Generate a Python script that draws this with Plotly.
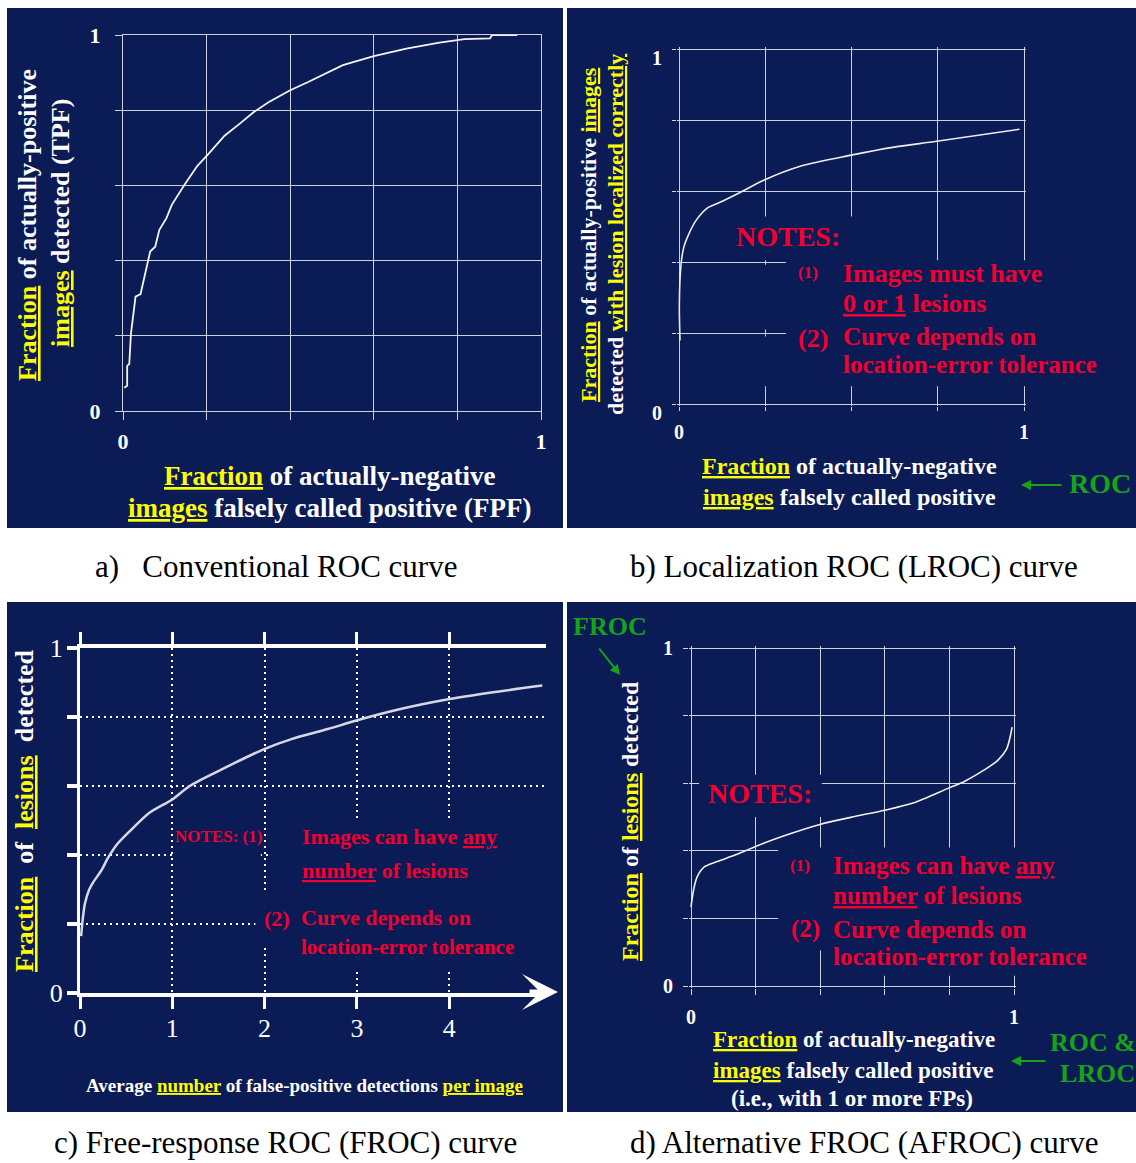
import plotly.graph_objects as go

W, H = 1136, 1163

NAVY = "#0b1b56"
GRID = "#cdd1de"
WHITE = "#ffffff"
YELLOW = "#ffff00"
RED = "#f2002f"
GREEN = "#17a317"
SERIF = "Liberation Serif, Times New Roman, serif"

# a) conventional ROC: empirical operating points (FPF, TPF)
roc_fpf = [0.003, 0.010, 0.010, 0.015, 0.019, 0.030, 0.042, 0.061, 0.065, 0.077,
           0.087, 0.104, 0.117, 0.148, 0.178, 0.204, 0.243, 0.278, 0.313, 0.348,
           0.400, 0.443, 0.526, 0.600, 0.678, 0.757, 0.817, 0.878, 0.883, 0.943]
roc_tpf = [0.062, 0.067, 0.120, 0.125, 0.205, 0.304, 0.311, 0.410, 0.424, 0.437,
           0.482, 0.513, 0.549, 0.603, 0.652, 0.683, 0.732, 0.763, 0.795, 0.821,
           0.853, 0.875, 0.920, 0.944, 0.964, 0.980, 0.989, 0.991, 1.000, 1.000]

# b) LROC: FPF vs. fraction of positive images correctly localized
lroc_fpf = [0.003, 0.001, 0.006, 0.014, 0.029, 0.050, 0.082, 0.114, 0.177, 0.247,
            0.356, 0.499, 0.619, 0.747, 0.987]
lroc_tpf = [0.179, 0.280, 0.394, 0.442, 0.480, 0.518, 0.552, 0.566, 0.596, 0.631,
            0.671, 0.701, 0.723, 0.740, 0.774]

# c) FROC: false positives per image vs. lesion localization fraction
froc_fp_per_image = [0.012, 0.030, 0.054, 0.100, 0.141, 0.235, 0.300, 0.402, 0.559,
                     0.756, 1.000, 1.189, 1.504, 1.996, 2.291, 2.685, 2.984, 3.472,
                     4.004, 4.457, 5.008]
froc_llf = [0.165, 0.215, 0.260, 0.300, 0.320, 0.357, 0.390, 0.431, 0.474, 0.523,
            0.561, 0.600, 0.644, 0.707, 0.736, 0.765, 0.789, 0.823, 0.852, 0.871,
            0.891]

# d) AFROC: image-level FPF vs. lesion localization fraction
afroc_fpf = [0.000, 0.008, 0.019, 0.042, 0.081, 0.138, 0.200, 0.284, 0.399, 0.510,
             0.600, 0.690, 0.794, 0.848, 0.904, 0.949, 0.977, 0.989, 0.994]
afroc_llf = [0.234, 0.284, 0.323, 0.353, 0.368, 0.388, 0.413, 0.443, 0.478, 0.502,
             0.520, 0.542, 0.584, 0.606, 0.637, 0.667, 0.701, 0.741, 0.766]

# tick values / labels
unit_ticks = [0.0, 0.2, 0.4, 0.6, 0.8, 1.0]
unit_labels = ["0", "", "", "", "", "1"]
quarter_ticks = [0.0, 0.25, 0.5, 0.75, 1.0]
quarter_labels = ["0", "", "", "", "1"]
froc_x_ticks = [0, 1, 2, 3, 4]
froc_x_labels = ["0", "1", "2", "3", "4"]

captions = ["a)\u00a0\u00a0\u00a0Conventional ROC curve",
            "b) Localization ROC (LROC) curve",
            "c) Free-response ROC (FROC) curve",
            "d) Alternative FROC (AFROC) curve"]


def fx(p):
    return p / W


def fy(p):
    return 1 - p / H


def yel(t):
    return f"<span style='color:{YELLOW}'><u>{t}</u></span>"


fig = go.Figure()

fig.add_trace(go.Scatter(x=roc_fpf, y=roc_tpf, mode="lines", xaxis="x", yaxis="y",
                         line=dict(color="#f4f4f4", width=1.8), hoverinfo="skip"))
fig.add_trace(go.Scatter(x=lroc_fpf, y=lroc_tpf, mode="lines", xaxis="x2", yaxis="y2",
                         line=dict(color="#ececec", width=1.6, shape="spline", smoothing=0.8),
                         hoverinfo="skip"))
fig.add_trace(go.Scatter(x=froc_fp_per_image, y=froc_llf, mode="lines", xaxis="x3", yaxis="y3",
                         line=dict(color="#d6d8e4", width=2.5, shape="spline", smoothing=0.8),
                         hoverinfo="skip"))
fig.add_trace(go.Scatter(x=afroc_fpf, y=afroc_llf, mode="lines", xaxis="x4", yaxis="y4",
                         line=dict(color="#f0f0f0", width=1.6, shape="spline", smoothing=0.8),
                         hoverinfo="skip"))

EPS = 0.006


def solid_axis(domain, anchor, tickvals, ticktext, rng, size, ticklen=6, standoff=4,
               shift=0):
    return dict(domain=domain, anchor=anchor, range=rng, tickmode="array",
                tickvals=tickvals, ticktext=ticktext, showgrid=True, gridcolor=GRID,
                gridwidth=1.4, zeroline=False, ticks="outside", ticklen=ticklen,
                tickcolor=GRID, tickwidth=1.4, showline=False, fixedrange=True,
                automargin=False, ticklabelstandoff=standoff, ticklabelshift=shift,
                tickfont=dict(family=SERIF, size=size, color=WHITE, weight="bold"))


# panel a
ax_a = solid_axis([fx(123), fx(541)], "y", unit_ticks, unit_labels, [0, 1], 22,
                  ticklen=8, standoff=2)
ax_a.update(showline=True, mirror=True, linecolor=GRID, linewidth=1.4)
ay_a = solid_axis([fy(411), fy(35)], "x", unit_ticks, unit_labels, [0, 1], 22,
                  ticklen=7, standoff=10)
ay_a.update(showline=True, mirror=True, linecolor=GRID, linewidth=1.4)

# panel b (range padded so the border grid lines are kept)
bx0, bx1 = 679, 1024
by0, by1 = 404, 49
bw, bh = bx1 - bx0, by0 - by1
ax_b = solid_axis([fx(bx0 - EPS * bw), fx(bx1 + EPS * bw)], "y2", quarter_ticks,
                  quarter_labels, [-EPS, 1 + EPS], 20, ticklen=4, standoff=4)
ay_b = solid_axis([fy(by0 + EPS * bh), fy(by1 - EPS * bh)], "x2", unit_ticks,
                  unit_labels, [-EPS, 1 + EPS], 20, ticklen=4, standoff=6, shift=9)

# panel c
cx0, cunit = 80, 92.3
cxmax = 5.05
ax_c = dict(domain=[fx(cx0), fx(cx0 + cxmax * cunit)], anchor="y3", range=[0, cxmax],
            tickmode="array", tickvals=froc_x_ticks, ticktext=froc_x_labels,
            showgrid=True, gridcolor=WHITE, gridwidth=2, griddash="2px,4px",
            zeroline=False, showline=True, mirror="allticks", linecolor=WHITE,
            linewidth=4, ticks="outside", ticklen=12, tickwidth=3, tickcolor=WHITE,
            ticklabelstandoff=-3, fixedrange=True, automargin=False,
            tickfont=dict(family=SERIF, size=26, color=WHITE))
ay_c = dict(domain=[fy(993), fy(648)], anchor="x3", range=[0, 1], tickmode="array",
            tickvals=unit_ticks, ticktext=unit_labels, showgrid=True, gridcolor=WHITE,
            gridwidth=2, griddash="2px,4px", zeroline=False, showline=True,
            linecolor=WHITE, linewidth=3, ticks="outside", ticklen=10, tickwidth=4,
            tickcolor=WHITE, ticklabelstandoff=-1, fixedrange=True, automargin=False,
            tickfont=dict(family=SERIF, size=26, color=WHITE))

# panel d
dx0, dx1 = 691, 1014
dy0, dy1 = 986, 648
dw, dh = dx1 - dx0, dy0 - dy1
ax_d = solid_axis([fx(dx0 - EPS * dw), fx(dx1 + EPS * dw)], "y4", unit_ticks, unit_labels,
                  [-EPS, 1 + EPS], 20, ticklen=6, standoff=5)
ay_d = solid_axis([fy(dy0 + EPS * dh), fy(dy1 - EPS * dh)], "x4", unit_ticks, unit_labels,
                  [-EPS, 1 + EPS], 20, ticklen=5, standoff=6)

fig.update_layout(xaxis=ax_a, yaxis=ay_a, xaxis2=ax_b, yaxis2=ay_b,
                  xaxis3=ax_c, yaxis3=ay_c, xaxis4=ax_d, yaxis4=ay_d)

shapes = []
# navy slide backgrounds
for (l, t, r, b) in [(7, 8, 563, 528), (567, 8, 1136, 528),
                     (7, 602, 563, 1112), (567, 602, 1136, 1112)]:
    shapes.append(dict(type="rect", xref="paper", yref="paper", x0=fx(l), x1=fx(r),
                       y0=fy(b), y1=fy(t), fillcolor=NAVY, line=dict(width=0),
                       layer="below"))


def mask(xr, yr, x0, x1, y0, y1):
    shapes.append(dict(type="rect", xref=xr, yref=yr, x0=x0, x1=x1, y0=y0, y1=y1,
                       fillcolor=NAVY, line=dict(width=0), layer="between"))


# text boxes sitting over the grids
mask("x2", "y2", 0.31, 1.05, 0.05, 0.405)
mask("x2", "y2", 0.17, 0.56, 0.405, 0.528)
mask("x2", "y2", 0.24, 0.26, 0.05, 0.19)
mask("x2", "y2", 0.24, 0.26, 0.21, 0.392)

mask("x3", "y3", 1.04, 1.96, 0.385, 0.415)
mask("x3", "y3", 2.04, 5.06, 0.064, 0.507)
mask("x3", "y3", 1.90, 2.04, 0.137, 0.29)

mask("x4", "y4", 0.025, 0.405, 0.50, 0.625)
mask("x4", "y4", 0.27, 0.5, 0.105, 0.41)
mask("x4", "y4", 0.5, 1.05, 0.03, 0.41)

fig.update_layout(shapes=shapes)

anns = []


def txt(text, x, y, size, color=WHITE, bold=True, xanchor="center", angle=0):
    t = f"<b>{text}</b>" if bold else text
    anns.append(dict(text=t, x=fx(x), y=fy(y), xref="paper", yref="paper",
                     xanchor=xanchor, yanchor="middle", textangle=angle,
                     showarrow=False, font=dict(family=SERIF, size=size, color=color)))


def arrow(x, y, ax, ay, color, width, head=2, size=1.0):
    anns.append(dict(text="", x=fx(x), y=fy(y), xref="paper", yref="paper",
                     ax=ax, ay=ay, showarrow=True, arrowcolor=color,
                     arrowwidth=width, arrowhead=head, arrowsize=size))


# a) conventional ROC
txt(f"{yel('Fraction')} of actually-positive", 27, 225, 26, angle=-90)
txt(f"{yel('images')} detected (TPF)", 60, 223, 26, angle=-90)
txt(f"{yel('Fraction')} of actually-negative", 329, 476, 27)
txt(f"{yel('images')} falsely called positive (FPF)", 329.5, 508, 27)

# b) LROC
txt(f"{yel('Fraction')} of actually-positive {yel('images')}", 589, 235, 22, angle=-90)
txt(f"detected {yel('with lesion localized correctly')}", 616, 235, 22, angle=-90)
txt(f"{yel('Fraction')} of actually-negative", 850, 466, 24)
txt(f"{yel('images')} falsely called positive", 850, 497, 24)
txt("ROC", 1100, 483, 28, color=GREEN)
arrow(1021, 485, 42, 0, GREEN, 2)
txt("NOTES:", 788, 237, 28, color=RED)
txt("(1)", 808, 272, 17, color=RED)
txt("Images must have", 841, 273, 26, color=RED, xanchor="left")
txt("<u>0 or 1</u> lesions", 841, 303, 26, color=RED, xanchor="left")
txt("(2)", 813, 338, 26, color=RED)
txt("Curve depends on", 841, 336, 25, color=RED, xanchor="left")
txt("location-error tolerance", 841, 364, 25, color=RED, xanchor="left")

# c) FROC
gap = "\u00a0 "
txt(f"{yel('Fraction')}{gap}of{gap}{yel('lesions')}{gap}detected", 24, 811, 26, angle=-90)
txt("NOTES: (1)", 218, 836, 17, color=RED)
txt("Images can have <u>any</u>", 300, 836, 22, color=RED, xanchor="left")
txt("<u>number</u> of lesions", 300, 870, 22, color=RED, xanchor="left")
txt("(2)", 277, 918, 22, color=RED)
txt("Curve depends on", 299, 917, 22, color=RED, xanchor="left")
txt("location-error tolerance", 299, 947, 21, color=RED, xanchor="left")
txt(f"Average {yel('number')} of false-positive detections {yel('per image')}",
    304, 1085, 19)
arrow(558, 992, -30, 0, WHITE, 5, head=3, size=1.2)

# d) AFROC
txt("FROC", 610, 626, 26, color=GREEN)
arrow(620, 675, -22, -28, GREEN, 2)
txt(f"{yel('Fraction')} of {yel('lesions')} detected", 630, 821, 24, angle=-90)
txt("NOTES:", 760, 793, 28, color=RED)
txt("(1)", 799.5, 865, 17, color=RED)
txt("Images can have <u>any</u>", 831, 865, 25, color=RED, xanchor="left")
txt("<u>number</u> of lesions", 831, 895, 25, color=RED, xanchor="left")
txt("(2)", 805, 929, 25, color=RED)
txt("Curve depends on", 831, 929, 25, color=RED, xanchor="left")
txt("location-error tolerance", 831, 956, 25, color=RED, xanchor="left")
txt(f"{yel('Fraction')} of actually-negative", 854, 1039, 23)
txt(f"{yel('images')} falsely called positive", 853, 1070, 23)
txt("(i.e., with 1 or more FPs)", 852, 1098, 23)
txt("ROC &amp;", 1048, 1042, 26, color=GREEN, xanchor="left")
txt("LROC", 1058, 1073, 26, color=GREEN, xanchor="left")
arrow(1011, 1061, 36, 0, GREEN, 2)

# captions under each panel
for cap, (cx, cy) in zip(captions, [(276, 566), (854, 566), (285, 1142), (864, 1142)]):
    txt(cap, cx, cy, 31, color="#000000", bold=False)

fig.update_layout(annotations=anns, width=W, height=H, autosize=False,
                  margin=dict(l=0, r=0, t=0, b=0, pad=0, autoexpand=False),
                  paper_bgcolor="#ffffff", plot_bgcolor="rgba(0,0,0,0)",
                  showlegend=False, font=dict(family=SERIF, color=WHITE))

fig.write_html("out.html", config={"displayModeBar": False},
               post_script="document.body.style.margin='0px';"
                           "document.body.style.overflow='hidden';")
